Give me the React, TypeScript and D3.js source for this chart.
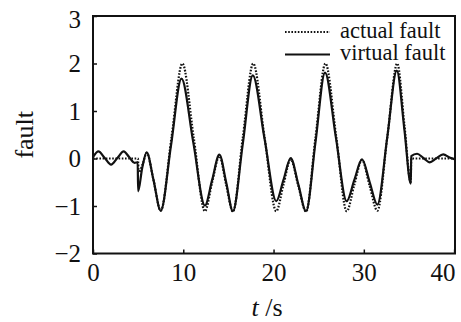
import * as d3 from 'd3';
import React, { useEffect, useRef } from 'react';

// time (s) / value pairs
const actualT = [0, 4.98, 5.05, 5.5, 5.95, 6.7, 7.5, 8.7, 9.9, 11.15, 12.4, 13.2, 14.0, 14.75, 15.5, 16.6, 17.75, 19.0, 20.3, 21.1, 21.9, 22.75, 23.6, 24.65, 25.75, 26.95, 28.1, 28.95, 29.8, 30.65, 31.5, 32.6, 33.7, 34.5, 35.2, 35.25, 40.4];
const actualV = [0, 0, -0.3, -0.12, 0.12, -0.45, -1.1, 0.45, 2.0, 0.45, -1.11, -0.5, 0.05, -0.55, -1.12, 0.45, 2.0, 0.45, -1.11, -0.55, -0.02, -0.58, -1.12, 0.45, 2.0, 0.45, -1.11, -0.55, -0.03, -0.58, -1.1, 0.45, 2.0, 0.7, -0.5, 0, 0];

const virtualT = [0, 0.6, 1.3, 2.0, 2.7, 3.4, 4.0, 4.6, 4.95, 5.0, 5.45, 5.95, 6.7, 7.5, 8.65, 9.8, 11.1, 12.4, 13.2, 14.0, 14.75, 15.5, 16.6, 17.7, 19.0, 20.3, 21.1, 21.9, 22.75, 23.6, 24.65, 25.7, 26.9, 28.1, 28.95, 29.8, 30.65, 31.5, 32.6, 33.65, 34.5, 35.2, 35.25, 35.9, 36.6, 37.3, 38.0, 38.8, 39.5, 40.4];
const virtualV = [0.03, 0.15, 0.01, -0.13, 0.01, 0.15, 0.03, -0.09, -0.08, -0.69, -0.2, 0.13, -0.45, -1.1, 0.29, 1.68, 0.35, -0.99, -0.45, 0.08, -0.5, -1.11, 0.32, 1.75, 0.42, -0.9, -0.45, 0.01, -0.55, -1.11, 0.35, 1.81, 0.45, -0.9, -0.45, -0.02, -0.5, -0.97, 0.45, 1.85, 0.6, -0.53, 0.05, 0.1, 0.01, -0.08, 0.0, 0.085, 0.02, -0.03];

const xTicks = [0, 10, 20, 30, 40];
const yTicks = [-2, -1, 0, 1, 2, 3];
const legendLabels = ['actual fault', 'virtual fault'];

const font = "'Liberation Serif', 'Times New Roman', Times, serif";

const App = () => {
    const ref = useRef(null);
    const W = 461, H = 322;
    const margin = { top: 16, right: 6, bottom: 68.5, left: 93 };
    const width = W - margin.left - margin.right;
    const height = H - margin.top - margin.bottom;

    useEffect(() => {
        const svg = d3.select(ref.current);
        svg.selectAll('*').remove();

        const x = d3.scaleLinear().domain([0, 40.1]).range([0, width]);
        const y = d3.scaleLinear().domain([-2, 3]).range([height, 0]);

        const g = svg.append('g').attr('transform', `translate(${margin.left},${margin.top})`);

        g.append('clipPath').attr('id', 'plot-clip')
            .append('rect').attr('width', width).attr('height', height);

        const mk = (ts: number[], vs: number[]) => ts.map((t, i) => [t, vs[i]] as [number, number]);
        const path = d3.line<[number, number]>()
            .x(d => x(d[0]))
            .y(d => y(d[1]))
            .curve(d3.curveMonotoneX);

        const plot = g.append('g').attr('clip-path', 'url(#plot-clip)');
        plot.append('path')
            .attr('d', path(mk(actualT, actualV)))
            .attr('fill', 'none')
            .attr('stroke', '#111')
            .attr('stroke-width', 2.2)
            .attr('stroke-dasharray', '1.6,1.6');
        plot.append('path')
            .attr('d', path(mk(virtualT, virtualV)))
            .attr('fill', 'none')
            .attr('stroke', '#111')
            .attr('stroke-width', 2.2);

        // axes, ticks pointing inward
        const xAxis = g.append('g')
            .attr('transform', `translate(0,${height})`)
            .call(d3.axisBottom(x).tickValues(xTicks).tickSize(-4).tickPadding(10).tickFormat(d3.format('d')));
        const yAxis = g.append('g')
            .call(d3.axisLeft(y).tickValues(yTicks).tickSize(-4).tickPadding(12).tickFormat(d3.format('d')));

        [xAxis, yAxis].forEach(a => {
            a.attr('font-family', null).attr('font-size', null);
            a.select('.domain').remove();
            a.selectAll('line').attr('stroke', '#111').attr('stroke-width', 1.5);
            a.selectAll('text')
                .style('font-family', font).style('font-size', '25px').attr('fill', '#111');
        });
        // last x label kept inside the picture, top y label pushed down a bit
        xAxis.selectAll('text').filter((d: any) => d === 40).attr('text-anchor', 'end').attr('dx', 1);
        yAxis.selectAll('text').filter((d: any) => d === 3).attr('dy', '0.45em');

        // frame
        g.append('rect')
            .attr('width', width).attr('height', height)
            .attr('fill', 'none').attr('stroke', '#111').attr('stroke-width', 2);

        // axis labels
        const xl = svg.append('text')
            .attr('x', margin.left + width / 2 - 7)
            .attr('y', 316)
            .attr('text-anchor', 'middle')
            .style('font-family', font).style('font-size', '26px').attr('fill', '#111');
        xl.append('tspan').style('font-style', 'italic').text('t');
        xl.append('tspan').text(' /s');

        svg.append('text')
            .attr('transform', `translate(33,${margin.top + height / 2}) rotate(-90)`)
            .attr('text-anchor', 'middle')
            .style('font-family', font).style('font-size', '26px').attr('fill', '#111')
            .text('fault');

        // legend
        const lg = svg.append('g');
        const dashes = ['1.6,1.6', null];
        legendLabels.forEach((lab, i) => {
            const yy = 32 + i * 22.5;
            lg.append('line')
                .attr('x1', 285).attr('x2', 330).attr('y1', yy).attr('y2', yy)
                .attr('stroke', '#111').attr('stroke-width', 2)
                .attr('stroke-dasharray', dashes[i]);
            lg.append('text')
                .attr('x', 340).attr('y', yy + 5.5)
                .style('font-family', font).style('font-size', '22.5px').attr('fill', '#111')
                .text(lab);
        });
    }, []);

    return (
        <svg ref={ref} width={W} height={H}
            style={{ position: 'absolute', left: 0, top: 0, background: '#fff' }}>
        </svg>
    );
};

export default App;
